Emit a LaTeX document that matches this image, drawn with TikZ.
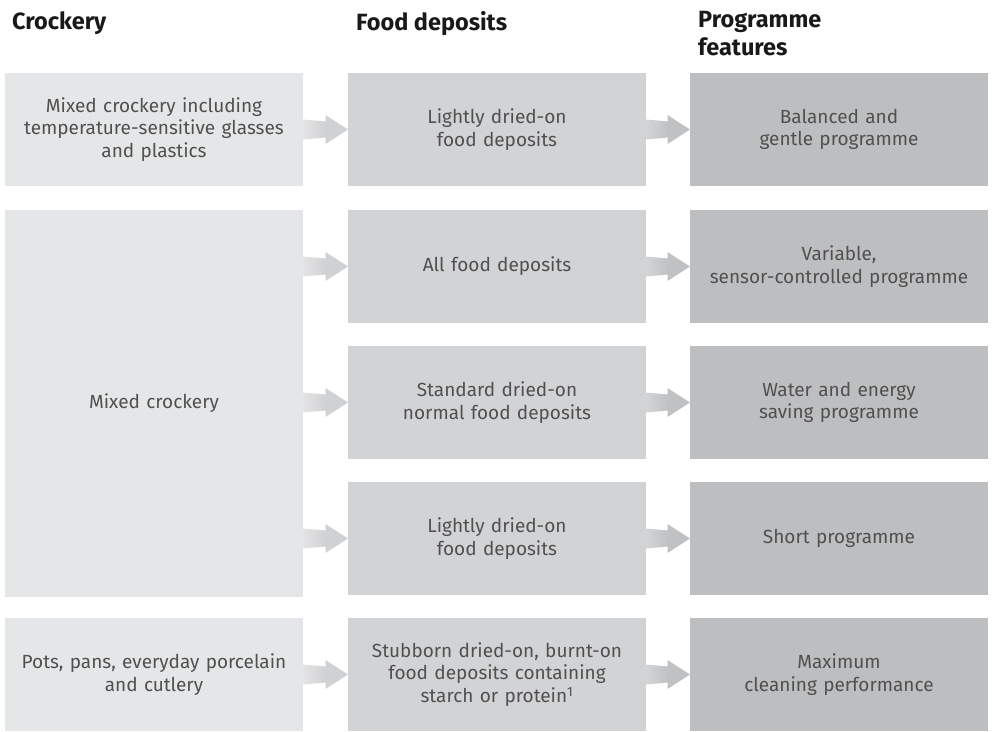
\documentclass[tikz,border=0pt]{standalone}
\usepackage{fontspec}
\setmainfont{Fira Sans}
\usepackage{tikz}
\usetikzlibrary{calc}

\definecolor{crockfill}{HTML}{E5E6E7}
\definecolor{foodfill}{HTML}{D2D3D5}
\definecolor{progfill}{HTML}{BDBEC0}
\definecolor{arrowA}{HTML}{E4E4E5}
\definecolor{arrowB}{HTML}{D0D1D3}
\definecolor{arrowC}{HTML}{D4D5D6}
\definecolor{arrowD}{HTML}{C0C1C3}
\definecolor{boxtext}{HTML}{505050}

\tikzset{
  box/.style={rectangle, anchor=north west, inner sep=0pt, outer sep=0pt,
    minimum width=298pt, minimum height=113pt, text width=290pt, align=center,
    text=boxtext, font=\fontsize{19}{22.5}\selectfont},
  crock/.style={box, fill=crockfill},
  food/.style={box, fill=foodfill},
  prog/.style={box, fill=progfill},
  head/.style={anchor=north west, inner sep=0pt, align=left,
    font=\bfseries\fontsize{23.5}{28.5}\selectfont, text=black!90}
}

% shaft with a grey gradient, then a flat head touching the target box
\newcommand{\flowarrow}[4]{%
  \shade[left color=#3, right color=#4]
    ($(#1.east |- #2.west)+(0,-10)$) -- ($(#2.west)+(-22,-8)$) --
    ($(#2.west)+(-22,8)$) -- ($(#1.east |- #2.west)+(0,10)$) -- cycle;
  \fill[#4] ($(#2.west)+(-22.5,-14.5)$) -- (#2.west) -- ($(#2.west)+(-22.5,14.5)$) -- cycle;
}

\begin{document}
\begin{tikzpicture}[x=1pt, y=-1pt]
\useasboundingbox (0,0) rectangle (992,731);

\node[head] (h1) at (12,11) {Crockery};
\node[head] (h2) at (356,11) {Food deposits};
\node[head] (h3) at (698,11) {Programme\\features};

\node[crock] (c1) at (5,73) {Mixed crockery including\\temperature-sensitive glasses\\and plastics};
\node[crock, minimum height=387pt] (c2) at (5,210) {Mixed crockery};
\node[crock] (c3) at (5,618) {Pots, pans, everyday porcelain\\and cutlery};

\node[food] (f1) at (348,73) {Lightly dried-on\\food deposits};
\node[food] (f2) at (348,210) {All food deposits};
\node[food] (f3) at (348,346) {Standard dried-on\\normal food deposits};
\node[food] (f4) at (348,482) {Lightly dried-on\\food deposits};
\node[food] (f5) at (348,618) {Stubborn dried-on, burnt-on\\food deposits containing\\starch or protein\textsuperscript{1}};

\node[prog] (p1) at (690,73) {Balanced and\\gentle programme};
\node[prog] (p2) at (690,210) {Variable,\\sensor-controlled programme};
\node[prog] (p3) at (690,346) {Water and energy\\saving programme};
\node[prog] (p4) at (690,482) {Short programme};
\node[prog] (p5) at (690,618) {Maximum\\cleaning performance};

\flowarrow{c1}{f1}{arrowA}{arrowB}
\flowarrow{c2}{f2}{arrowA}{arrowB}
\flowarrow{c2}{f3}{arrowA}{arrowB}
\flowarrow{c2}{f4}{arrowA}{arrowB}
\flowarrow{c3}{f5}{arrowA}{arrowB}

\flowarrow{f1}{p1}{arrowC}{arrowD}
\flowarrow{f2}{p2}{arrowC}{arrowD}
\flowarrow{f3}{p3}{arrowC}{arrowD}
\flowarrow{f4}{p4}{arrowC}{arrowD}
\flowarrow{f5}{p5}{arrowC}{arrowD}
\end{tikzpicture}
\end{document}
